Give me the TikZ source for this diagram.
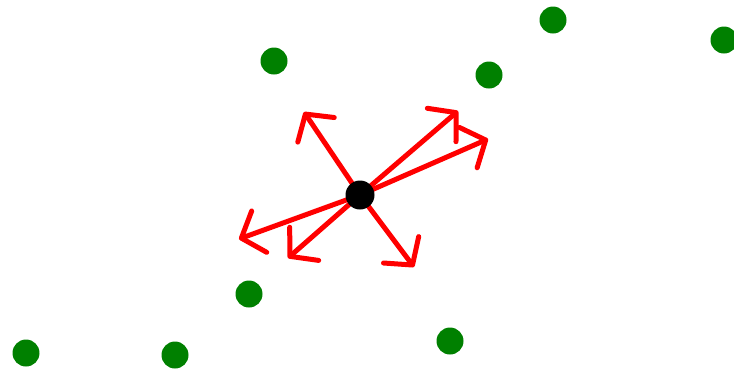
\documentclass[tikz,border=0pt]{standalone}
\usepackage{tikz}
\usetikzlibrary{arrows.meta}
\definecolor{dotgreen}{RGB}{0,128,0}
\definecolor{arrowred}{RGB}{255,0,0}

\begin{document}
\begin{tikzpicture}[
  x=1pt,y=-1pt,
  >={Straight Barb[length=19pt,width=44pt,round]},
  site/.style={circle,fill=dotgreen,minimum size=27pt,inner sep=0pt},
  agent/.style={circle,fill=black,minimum size=29pt,inner sep=0pt},
  push/.style={->,draw=arrowred,line width=5pt,line cap=round,line join=round}]
  \useasboundingbox (0,0) rectangle (734,373);
  %  -- - green points  -- -
  \node[site] (g1) at (274,61) {};
  \node[site] (g2) at (553,20) {};
  \node[site] (g3) at (724,40) {};
  \node[site] (g4) at (489,75) {};
  \node[site] (g5) at (249,294) {};
  \node[site] (g6) at (26,353) {};
  \node[site] (g7) at (175,355) {};
  \node[site] (g8) at (450,341) {};
  %  -- - arrow tips  -- -
  \coordinate (o) at (360,195);
  \coordinate (t1) at (304,112);
  \coordinate (t2) at (458,111);
  \coordinate (t3) at (488,139);
  \coordinate (t4) at (239,239);
  \coordinate (t5) at (288,258);
  \coordinate (t6) at (414,267);
  \draw[push] (o) -- (t1); \draw[push] (o) -- (t2); \draw[push] (o) -- (t3);
  \draw[push] (o) -- (t4); \draw[push] (o) -- (t5); \draw[push] (o) -- (t6);
  %  -- - black point  -- -
  \node[agent] (c) at (o) {};
\end{tikzpicture}
\end{document}
